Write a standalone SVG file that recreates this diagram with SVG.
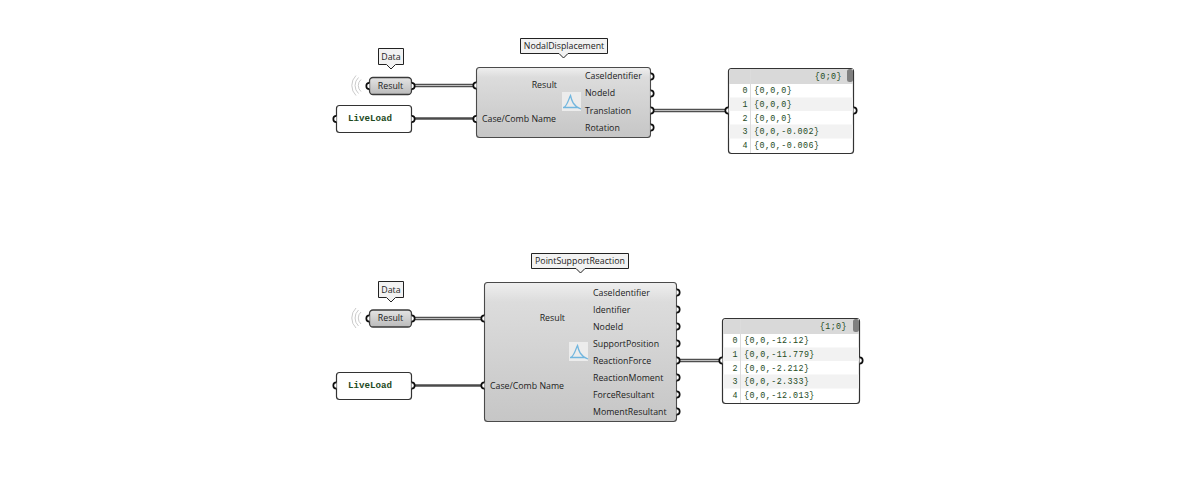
<svg xmlns="http://www.w3.org/2000/svg" width="1180" height="494" viewBox="0 0 1180 494">
<style>
text{font-family:"Open Sans","Noto Sans","Liberation Sans",sans-serif;font-size:8.8px;fill:#1c1c1c}
.m{font-family:"Liberation Mono","DejaVu Sans Mono",monospace;font-size:8.4px;fill:#1d4a1d;letter-spacing:.42px}
.ll{font-family:"Liberation Mono","DejaVu Sans Mono",monospace;font-size:9.2px;font-weight:bold;fill:#1d4a1d}
.tag{fill:#f2f2f2;stroke:#222;stroke-width:1}
.comp{fill:url(#body);stroke:#4a4a4a;stroke-width:1.1}
.pill{fill:url(#pill);stroke:#3a3a3a;stroke-width:1.3}
.white{fill:#fff;stroke:#333;stroke-width:1.2}
.wire{fill:none;stroke:#4f4f4f;stroke-width:3.6}
.wire2{fill:none;stroke:#bdbdbd;stroke-width:1.2}
.wiret{fill:none;stroke:#4a4a4a;stroke-width:2.6}
.arc{fill:none;stroke:#c4c4c4;stroke-width:.9}
.hdr{fill:#d9d9d9}
.alt{fill:#f2f2f2}
.sep{stroke:#dcdcdc;stroke-width:1}
.icon{fill:none;stroke:#72b6de;stroke-width:1.3}
.port{fill:#fff;stroke:#0c0c0c;stroke-width:1.7}
</style>
<defs>
<linearGradient id="body" x1="0" y1="0" x2="0" y2="1"><stop offset="0" stop-color="#efefef"/><stop offset=".14" stop-color="#dcdcdc"/><stop offset="1" stop-color="#c6c6c6"/></linearGradient>
<linearGradient id="pill" x1="0" y1="0" x2="0" y2="1"><stop offset="0" stop-color="#e4e4e4"/><stop offset="1" stop-color="#bbbbbb"/></linearGradient>
<path id="po" class="port" d="M0-3.200A3.200 3.200 0 0 1 0 3.200"/>
<path id="pi" class="port" d="M0-3.200A3.200 3.200 0 0 0 0 3.200"/>
</defs>

<g id="connectors">
<path class="wire" d="M412 85.500H476"/><path class="wire2" d="M412 85.500H476"/>
<path class="wiret" d="M412 118.500H476"/>
<path class="wire" d="M651 110.500H728"/><path class="wire2" d="M651 110.500H728"/>
<path class="wire" d="M412 318.500H484"/><path class="wire2" d="M412 318.500H484"/>
<path class="wiret" d="M412 385.500H484"/>
<path class="wire" d="M677 360.500H722"/><path class="wire2" d="M677 360.500H722"/>
</g>

<g id="tag-data-1">
<path class="tag" d="M378.500 48.500H403.500V64.500H395.500L391 69L386.500 64.500H378.500Z"/>
<text x="391" y="59.500" text-anchor="middle">Data</text>
</g>
<g id="relay-result-1">
<path class="arc" d="M361 79.500a8 8 0 0 0 0 12M358.500 77.500a11 11 0 0 0 0 16M356 75.500a14 14 0 0 0 0 20"/>
<rect class="pill" x="369.500" y="77.500" width="42" height="17" rx="3.500"/>
<use href="#pi" x="369.500" y="86"/><use href="#po" x="411.500" y="86"/>
<text x="390.500" y="88.500" text-anchor="middle">Result</text>
</g>
<g id="panel-liveload-1">
<rect class="white" x="336.500" y="105.500" width="75" height="27" rx="3"/>
<use href="#pi" x="336.500" y="119"/><use href="#po" x="411.500" y="119"/>
<text class="ll" x="370" y="121" text-anchor="middle">LiveLoad</text>
</g>
<g id="nodal-displacement">
<path class="tag" d="M520.500 38.500H607.500V53.500H568L563.500 58L559 53.500H520.500Z"/>
<text x="564" y="49" text-anchor="middle">NodalDisplacement</text>
<rect class="comp" x="476.500" y="67.500" width="174" height="70" rx="3"/>
<use href="#pi" x="476.500" y="85.500"/><use href="#pi" x="476.500" y="119"/>
<use href="#po" x="650.500" y="76.500"/><use href="#po" x="650.500" y="93.500"/><use href="#po" x="650.500" y="110.500"/><use href="#po" x="650.500" y="127.500"/>
<text x="557" y="88" text-anchor="end">Result</text>
<text x="482" y="122">Case/Comb Name</text>
<text x="585" y="79">CaseIdentifier</text>
<text x="585" y="96">NodeId</text>
<text x="585" y="113.500">Translation</text>
<text x="585" y="130.500">Rotation</text>
<rect x="562" y="92" width="19" height="19" fill="#ececec"/>
<path class="icon" d="M563 107.500H578M564.500 107C568 104 569 98 570.500 95.500C571.500 100 573 106 581 109"/>
</g>
<g id="panel-list-1">
<rect class="white" x="728.500" y="68.500" width="125" height="85" rx="3"/>
<path class="hdr" d="M729 72a3 3 0 0 1 3-3H853V84H729Z"/>
<rect class="alt" x="729" y="97.500" width="124" height="13.500"/>
<rect class="alt" x="729" y="124.500" width="124" height="14"/>
<path class="sep" d="M750.500 69V153"/>
<rect x="847" y="69" width="6" height="13" rx="2.500" fill="#808080"/>
<use href="#pi" x="728.500" y="110.500"/><use href="#po" x="853.500" y="110.500"/>
<text class="m" x="842" y="78.500" text-anchor="end">{0;0}</text>
<text class="m" x="748" y="93" text-anchor="end">0</text><text class="m" x="754" y="93">{0,0,0}</text>
<text class="m" x="748" y="107" text-anchor="end">1</text><text class="m" x="754" y="107">{0,0,0}</text>
<text class="m" x="748" y="120.500" text-anchor="end">2</text><text class="m" x="754" y="120.500">{0,0,0}</text>
<text class="m" x="748" y="134" text-anchor="end">3</text><text class="m" x="754" y="134">{0,0,-0.002}</text>
<text class="m" x="748" y="147.500" text-anchor="end">4</text><text class="m" x="754" y="147.500">{0,0,-0.006}</text>
</g>

<g id="tag-data-2">
<path class="tag" d="M378.500 281.500H403.500V297.500H395.500L391 302L386.500 297.500H378.500Z"/>
<text x="391" y="292.500" text-anchor="middle">Data</text>
</g>
<g id="relay-result-2">
<path class="arc" d="M361 312a8 8 0 0 0 0 12M358.500 310a11 11 0 0 0 0 16M356 308a14 14 0 0 0 0 20"/>
<rect class="pill" x="369.500" y="310" width="42" height="17" rx="3.500"/>
<use href="#pi" x="369.500" y="318.500"/><use href="#po" x="411.500" y="318.500"/>
<text x="390.500" y="321" text-anchor="middle">Result</text>
</g>
<g id="panel-liveload-2">
<rect class="white" x="336.500" y="372.500" width="75" height="27" rx="3"/>
<use href="#pi" x="336.500" y="385.500"/><use href="#po" x="411.500" y="385.500"/>
<text class="ll" x="370" y="388" text-anchor="middle">LiveLoad</text>
</g>
<g id="point-support-reaction">
<path class="tag" d="M531.500 253.500H628.500V268.500H585L580.500 273L576 268.500H531.500Z"/>
<text x="580" y="264" text-anchor="middle">PointSupportReaction</text>
<rect class="comp" x="484.500" y="282.500" width="192" height="139" rx="3"/>
<use href="#pi" x="484.500" y="318.500"/><use href="#pi" x="484.500" y="385.500"/>
<use href="#po" x="676.500" y="292.500"/><use href="#po" x="676.500" y="309.500"/><use href="#po" x="676.500" y="326.500"/><use href="#po" x="676.500" y="343.500"/><use href="#po" x="676.500" y="360.500"/><use href="#po" x="676.500" y="377.500"/><use href="#po" x="676.500" y="394.500"/><use href="#po" x="676.500" y="411.500"/>
<text x="565" y="321" text-anchor="end">Result</text>
<text x="490" y="389">Case/Comb Name</text>
<text x="593" y="295.500">CaseIdentifier</text>
<text x="593" y="312.500">Identifier</text>
<text x="593" y="329.500">NodeId</text>
<text x="593" y="346.500">SupportPosition</text>
<text x="593" y="363.500">ReactionForce</text>
<text x="593" y="380.500">ReactionMoment</text>
<text x="593" y="397.500">ForceResultant</text>
<text x="593" y="414.500">MomentResultant</text>
<rect x="569" y="342" width="19" height="19" fill="#ececec"/>
<path class="icon" d="M570 357.500H585M571.500 357C575 354 576 348 577.500 345.500C578.500 350 580 356 588 359"/>
</g>
<g id="panel-list-2">
<rect class="white" x="722.500" y="318.500" width="137" height="85" rx="3"/>
<path class="hdr" d="M723 322a3 3 0 0 1 3-3H859V334H723Z"/>
<rect class="alt" x="723" y="347.500" width="136" height="13.500"/>
<rect class="alt" x="723" y="374.500" width="136" height="14"/>
<path class="sep" d="M740.500 319V403"/>
<rect x="853" y="319" width="6" height="13" rx="2.500" fill="#808080"/>
<use href="#pi" x="722.500" y="360.500"/><use href="#po" x="859.500" y="360.500"/>
<text class="m" x="847" y="328.500" text-anchor="end">{1;0}</text>
<text class="m" x="738" y="343" text-anchor="end">0</text><text class="m" x="744" y="343">{0,0,-12.12}</text>
<text class="m" x="738" y="357" text-anchor="end">1</text><text class="m" x="744" y="357">{0,0,-11.779}</text>
<text class="m" x="738" y="370.500" text-anchor="end">2</text><text class="m" x="744" y="370.500">{0,0,-2.212}</text>
<text class="m" x="738" y="384" text-anchor="end">3</text><text class="m" x="744" y="384">{0,0,-2.333}</text>
<text class="m" x="738" y="397.500" text-anchor="end">4</text><text class="m" x="744" y="397.500">{0,0,-12.013}</text>
</g>
</svg>
